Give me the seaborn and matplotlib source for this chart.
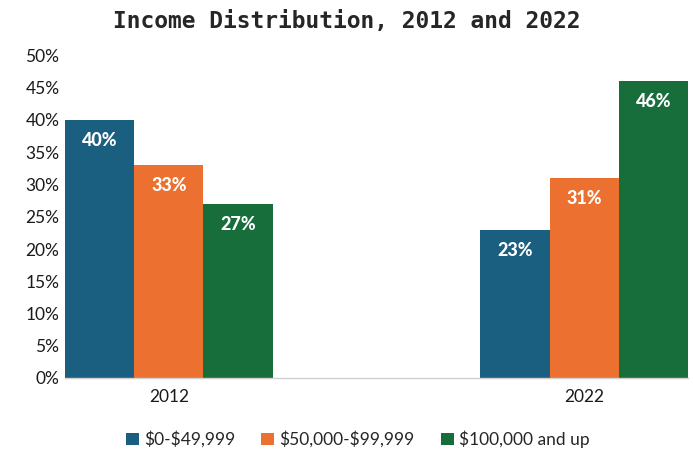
import matplotlib
matplotlib.use("Agg")
import matplotlib.pyplot as plt
import seaborn as sns
import pandas as pd

years = ["2012", "2022"]
brackets = ["$0-$49,999", "$50,000-$99,999", "$100,000 and up"]
values_2012 = [40, 33, 27]
values_2022 = [23, 31, 46]
colors = ["#1a5e80", "#ec7130", "#176e3a"]
yticks = [0, 5, 10, 15, 20, 25, 30, 35, 40, 45, 50]

rows = []
for b, v in zip(brackets, values_2012):
    rows.append({"year": "2012", "bracket": b, "value": v})
for b, v in zip(brackets, values_2022):
    rows.append({"year": "2022", "bracket": b, "value": v})
df = pd.DataFrame(rows)

sns.set_theme(style="white")
plt.rcParams["font.family"] = ["Lato", "DejaVu Sans"]
plt.rcParams["text.parse_math"] = False

fig = plt.figure(figsize=(6.93, 4.51), dpi=100)
ax = fig.add_axes([65/693, 73/451, 623/693, 322.5/451])

sns.barplot(data=df, x="year", y="value", hue="bracket", order=years,
            hue_order=brackets, palette=colors, width=0.5, errorbar=None,
            saturation=1, linewidth=0, ax=ax, legend=True)

for cont in ax.containers:
    ax.bar_label(cont, labels=[f"{int(round(h.get_height()))}%" for h in cont],
                 padding=-21, color="white", fontsize=13, fontweight="black")

ax.set_xlim(-0.25, 1.25)
ax.set_ylim(0, 50)
ax.set_yticks(yticks)
ax.set_yticklabels([f"{t}%" for t in yticks], fontsize=12.5, color="#1a1a1a")
ax.tick_params(axis="x", labelsize=12.5, colors="#1a1a1a", length=0, pad=8)
ax.tick_params(axis="y", length=0, pad=4)
ax.set_xlabel("")
ax.set_ylabel("")
for s in ["top", "right", "left"]:
    ax.spines[s].set_visible(False)
ax.spines["bottom"].set_color("#d0d0d0")
ax.spines["bottom"].set_linewidth(1)

ax.legend(loc="center", bbox_to_anchor=(0.47, -0.19), ncol=3, frameon=False,
          fontsize=12.5, handlelength=0.75, handleheight=0.75, handletextpad=0.3,
          columnspacing=1.5)

fig.text(0.5, 0.952, "Income Distribution, 2012 and 2022", ha="center", va="center",
         fontsize=16.5, fontweight="bold", family="DejaVu Sans Mono")

fig.savefig("out.png", dpi=100)
